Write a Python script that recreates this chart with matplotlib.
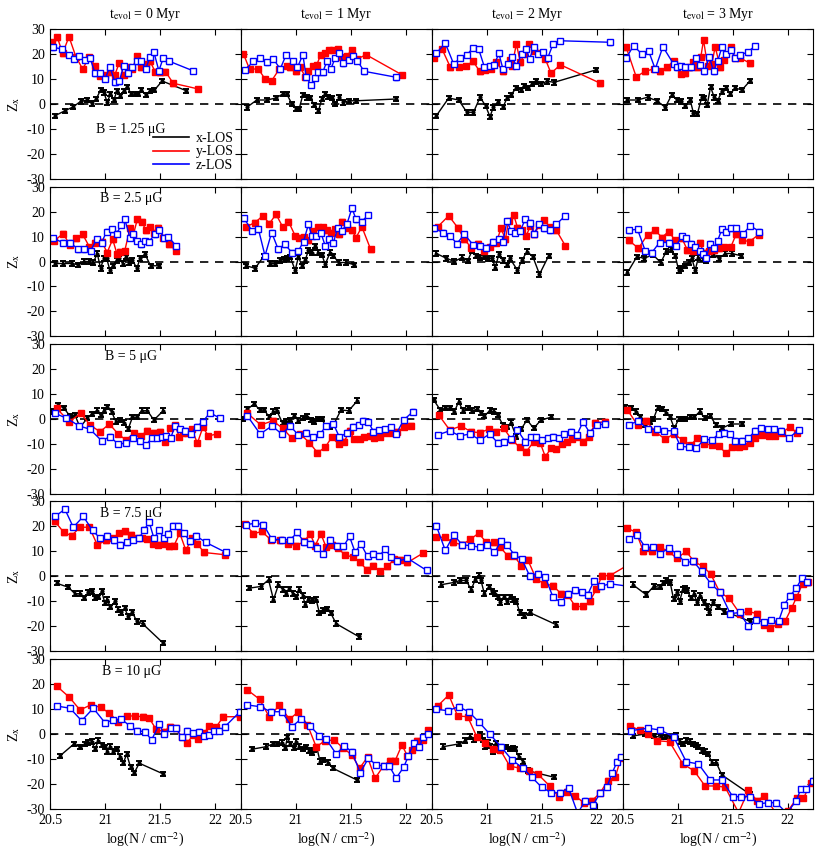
"""Z_x versus column density, 5 field strengths x 4 evolution times, three lines of sight."""

import matplotlib
matplotlib.use("Agg")
import matplotlib.pyplot as plt
from matplotlib.lines import Line2D

plt.rcParams["font.family"] = ["Liberation Serif", "DejaVu Serif"]
plt.rcParams["mathtext.fontset"] = "stix"
plt.rcParams["axes.unicode_minus"] = False

B_LABELS = ["B = 1.25 μG", "B = 2.5 μG", "B = 5 μG", "B = 7.5 μG", "B = 10 μG"]
T_LABELS = [r"t$_{\rm evol}$ = 0 Myr", r"t$_{\rm evol}$ = 1 Myr",
            r"t$_{\rm evol}$ = 2 Myr", r"t$_{\rm evol}$ = 3 Myr"]
LOS_LABELS = ["x-LOS", "y-LOS", "z-LOS"]
X_TICKS = [20.5, 21, 21.5, 22]
X_TICK_LABELS = ["20.5", "21", "21.5", "22"]
Y_TICKS = [-30, -20, -10, 0, 10, 20, 30]
ERR = 0.9

# ---- B = 1.25 uG ----
B125_T0_X = [(20.545,-4.7),(20.636,-2.7),(20.712,-1.1),(20.78,1.1),(20.84,1.6),(20.88,0.3),(20.92,2.0),(20.96,5.6),(20.99,4.7),(21.02,0.7),(21.05,4.0),(21.08,1.6),(21.11,5.3),(21.14,3.3),(21.17,5.3),(21.20,6.9),(21.24,4.0),(21.27,4.0),(21.30,4.0),(21.33,5.6),(21.37,3.7),(21.41,5.3),(21.45,5.6),(21.52,9.2),(21.74,5.3)]
B125_T0_Y = [(20.515,24.7),(20.567,26.7),(20.615,20.3),(20.673,26.9),(20.736,18.9),(20.797,14.0),(20.858,18.9),(20.909,15.3),(20.955,11.3),(21.0,11.7),(21.045,12.7),(21.09,11.7),(21.13,16.5),(21.17,11.7),(21.21,14.7),(21.25,14.0),(21.29,19.3),(21.33,14.7),(21.37,16.0),(21.41,17.1),(21.455,13.0),(21.50,12.7),(21.55,13.0),(21.62,8.3),(21.85,6.0)]
B125_T0_Z = [(20.53,22.7),(20.606,22.0),(20.673,19.7),(20.72,18.0),(20.767,19.3),(20.818,17.6),(20.864,18.4),(20.91,12.3),(20.955,12.3),(21.0,10.0),(21.045,14.9),(21.09,8.7),(21.13,9.1),(21.17,15.3),(21.21,12.3),(21.25,14.9),(21.29,17.1),(21.33,17.3),(21.37,14.0),(21.41,18.9),(21.445,20.7),(21.49,13.3),(21.53,18.4),(21.585,17.1),(21.80,13.3)]
B125_T1_X = [(20.555,-1.3),(20.645,1.6),(20.736,1.6),(20.82,2.4),(20.88,4.0),(20.918,4.0),(20.964,0.0),(21.003,-2.0),(21.03,-2.0),(21.064,3.7),(21.10,2.7),(21.13,2.4),(21.167,-0.3),(21.206,-2.7),(21.236,2.0),(21.267,4.0),(21.297,2.9),(21.327,2.4),(21.358,0.0),(21.397,2.7),(21.433,0.7),(21.479,1.3),(21.548,1.3),(21.912,2.0)]
B125_T1_Y = [(20.524,20.0),(20.579,14.0),(20.66,14.0),(20.72,10.0),(20.78,9.3),(20.85,14.0),(20.918,15.3),(20.948,14.7),(21.003,13.1),(21.04,14.7),(21.085,10.9),(21.115,13.1),(21.155,15.3),(21.19,15.7),(21.227,19.7),(21.267,20.3),(21.306,21.6),(21.342,21.6),(21.379,22.0),(21.418,18.9),(21.464,19.3),(21.509,21.6),(21.555,18.0),(21.64,19.7),(21.964,11.7)]
B125_T1_Z = [(20.54,13.6),(20.615,17.1),(20.676,18.4),(20.736,16.7),(20.797,18.0),(20.858,14.0),(20.912,19.7),(20.973,17.1),(21.015,14.7),(21.064,19.7),(21.094,10.9),(21.136,7.7),(21.176,10.4),(21.206,12.7),(21.245,12.7),(21.282,17.1),(21.318,14.0),(21.358,18.4),(21.397,20.3),(21.433,16.3),(21.479,17.6),(21.518,19.3),(21.56,17.3),(21.62,13.1),(21.912,10.7)]
B125_T2_X = [(20.542,-4.7),(20.655,2.4),(20.745,1.6),(20.82,-3.3),(20.88,-3.3),(20.94,2.7),(20.99,-0.7),(21.03,-5.1),(21.06,-1.3),(21.10,0.7),(21.15,-1.1),(21.185,2.4),(21.22,3.7),(21.27,6.4),(21.31,5.6),(21.34,7.3),(21.38,6.4),(21.41,8.0),(21.45,9.1),(21.49,8.0),(21.55,9.1),(21.615,8.7),(21.997,13.7)]
B125_T2_Y = [(20.524,18.4),(20.594,22.0),(20.67,14.7),(20.745,14.9),(20.815,15.3),(20.876,17.1),(20.936,13.1),(20.988,13.6),(21.04,14.0),(21.088,16.7),(21.148,13.1),(21.209,17.6),(21.23,15.3),(21.27,24.0),(21.306,16.7),(21.342,20.0),(21.382,24.0),(21.433,21.3),(21.488,20.3),(21.533,18.0),(21.585,12.3),(21.67,15.7),(22.033,8.3)]
B125_T2_Z = [(20.542,20.3),(20.624,24.3),(20.70,16.0),(20.76,18.4),(20.82,19.7),(20.876,22.4),(20.927,22.0),(20.98,14.7),(21.027,15.3),(21.07,15.7),(21.11,20.3),(21.148,14.0),(21.19,16.0),(21.23,18.9),(21.27,15.3),(21.32,20.0),(21.36,22.0),(21.39,18.0),(21.427,22.7),(21.464,20.0),(21.51,20.7),(21.555,18.4),(21.603,24.0),(21.67,25.3),(22.124,24.7)]
B125_T3_X = [(20.545,1.6),(20.636,1.6),(20.727,2.7),(20.812,1.3),(20.888,-1.3),(20.948,3.7),(20.994,1.6),(21.03,1.1),(21.07,-0.7),(21.115,1.6),(21.145,-3.7),(21.18,-4.0),(21.22,2.7),(21.24,2.4),(21.27,-0.3),(21.30,6.9),(21.333,2.7),(21.364,1.3),(21.403,5.1),(21.442,6.4),(21.479,4.0),(21.524,6.4),(21.585,5.6),(21.66,9.3)]
B125_T3_Y = [(20.533,22.7),(20.624,10.9),(20.706,13.1),(20.782,14.0),(20.842,13.1),(20.903,14.7),(20.964,17.1),(20.994,15.3),(21.03,12.0),(21.07,12.3),(21.10,14.7),(21.145,16.7),(21.18,14.7),(21.212,18.9),(21.236,25.6),(21.273,15.3),(21.312,16.0),(21.342,22.9),(21.388,14.7),(21.424,17.6),(21.485,22.7),(21.524,18.4),(21.57,18.4),(21.66,16.3)]
B125_T3_Z = [(20.533,18.4),(20.6,23.3),(20.676,20.0),(20.736,21.3),(20.797,14.0),(20.867,22.9),(20.964,16.0),(20.994,14.7),(21.03,15.3),(21.07,14.7),(21.12,14.7),(21.17,18.4),(21.206,15.7),(21.242,13.1),(21.29,18.7),(21.327,13.1),(21.364,17.1),(21.403,22.7),(21.442,20.0),(21.485,21.6),(21.524,18.4),(21.57,19.7),(21.636,20.7),(21.706,23.3)]

# ---- B = 2.5 uG ----
B25_T0_X = [(20.545,-0.8),(20.62,-0.8),(20.697,-0.8),(20.758,-1.3),(20.81,0.0),(20.857,0.0),(20.894,-0.4),(20.93,3.2),(20.96,-2.7),(20.99,1.3),(21.015,1.3),(21.045,-3.5),(21.07,-1.7),(21.106,0.5),(21.13,1.3),(21.16,-0.8),(21.19,1.9),(21.22,-0.4),(21.25,0.5),(21.29,-2.7),(21.32,1.3),(21.364,2.9),(21.415,-1.7),(21.494,-1.7)]
B25_T0_Y = [(20.54,8.3),(20.62,11.2),(20.68,6.7),(20.74,9.3),(20.797,10.9),(20.858,5.9),(20.909,7.6),(20.97,8.0),(21.02,3.6),(21.07,8.9),(21.11,2.9),(21.14,4.0),(21.18,4.3),(21.227,13.3),(21.258,10.7),(21.294,16.9),(21.333,16.0),(21.373,12.5),(21.41,13.9),(21.445,11.6),(21.485,13.6),(21.53,9.6),(21.585,6.9),(21.645,4.3)]
B25_T0_Z = [(20.53,9.3),(20.615,7.6),(20.68,7.6),(20.758,4.9),(20.81,4.9),(20.87,4.3),(20.924,8.9),(20.97,7.6),(21.015,12.0),(21.06,12.9),(21.106,11.2),(21.15,14.7),(21.18,16.9),(21.227,9.6),(21.258,11.2),(21.294,8.3),(21.327,6.9),(21.364,8.3),(21.4,8.0),(21.455,10.9),(21.494,12.5),(21.536,9.6),(21.576,9.9),(21.645,6.3)]
B25_T1_X = [(20.548,-1.7),(20.63,-2.7),(20.712,2.3),(20.767,-0.8),(20.812,-0.8),(20.858,0.5),(20.888,0.9),(20.918,1.3),(20.948,1.9),(20.994,-3.5),(21.024,1.9),(21.055,-1.7),(21.085,0.5),(21.115,4.5),(21.145,3.6),(21.176,6.3),(21.206,3.6),(21.236,2.7),(21.267,-1.1),(21.312,3.6),(21.342,2.3),(21.388,-0.4),(21.458,-0.4),(21.53,-1.3)]
B25_T1_Y = [(20.548,13.9),(20.63,15.6),(20.70,18.3),(20.76,15.2),(20.82,18.9),(20.88,13.9),(20.933,16.0),(20.994,10.3),(21.033,9.6),(21.07,9.9),(21.115,8.5),(21.16,12.3),(21.206,13.9),(21.245,13.9),(21.28,12.5),(21.318,11.6),(21.358,12.9),(21.388,10.9),(21.418,16.0),(21.464,13.6),(21.51,12.5),(21.548,9.6),(21.6,13.9),(21.68,4.9)]
B25_T1_Z = [(20.53,17.3),(20.6,12.3),(20.66,12.9),(20.72,2.3),(20.78,11.6),(20.84,4.9),(20.9,6.9),(20.964,3.6),(21.024,4.3),(21.07,8.0),(21.115,14.9),(21.145,10.3),(21.185,10.3),(21.227,11.6),(21.267,6.3),(21.306,8.9),(21.342,7.6),(21.379,13.3),(21.418,12.3),(21.464,14.9),(21.51,21.3),(21.548,16.9),(21.6,16.0),(21.66,18.7)]
B25_T2_X = [(20.542,3.2),(20.633,1.3),(20.706,0.0),(20.776,1.6),(20.827,0.3),(20.867,4.3),(20.906,2.3),(20.942,1.6),(20.979,1.9),(21.009,1.3),(21.048,1.3),(21.079,-2.4),(21.11,2.9),(21.148,0.5),(21.185,-1.3),(21.21,1.3),(21.28,-3.5),(21.32,0.5),(21.367,4.0),(21.42,1.9),(21.48,-5.1),(21.564,2.3)]
B25_T2_Y = [(20.555,13.9),(20.655,18.3),(20.736,13.6),(20.797,8.9),(20.858,5.6),(20.918,7.2),(20.973,4.3),(21.033,5.9),(21.088,7.6),(21.13,13.3),(21.17,8.9),(21.2,16.3),(21.245,18.7),(21.28,13.6),(21.32,12.5),(21.36,10.3),(21.397,14.3),(21.433,10.9),(21.48,14.7),(21.524,16.5),(21.573,13.9),(21.633,12.5),(21.715,6.3)]
B25_T2_Z = [(20.524,13.3),(20.603,11.6),(20.664,10.3),(20.73,7.2),(20.797,10.9),(20.876,6.7),(20.936,6.3),(20.997,5.6),(21.058,8.0),(21.11,8.9),(21.148,8.0),(21.185,16.3),(21.22,12.3),(21.26,11.6),(21.306,12.3),(21.35,16.9),(21.39,15.6),(21.433,11.2),(21.473,14.9),(21.518,13.3),(21.573,12.5),(21.633,14.9),(21.715,18.3)]
B25_T3_X = [(20.545,-4.4),(20.63,1.9),(20.697,1.3),(20.776,2.7),(20.848,-0.4),(20.897,4.0),(20.94,4.9),(20.979,2.3),(21.01,-3.5),(21.03,-2.7),(21.07,-1.7),(21.1,-0.4),(21.13,1.3),(21.16,-3.5),(21.19,1.6),(21.23,1.3),(21.26,0.3),(21.32,2.7),(21.38,1.3),(21.433,3.2),(21.494,3.2),(21.576,2.3)]
B25_T3_Y = [(20.555,8.5),(20.645,5.3),(20.727,10.7),(20.797,12.5),(20.858,9.6),(20.918,12.0),(20.979,8.5),(21.04,9.3),(21.09,4.5),(21.14,4.3),(21.2,7.6),(21.24,3.6),(21.29,4.3),(21.333,4.5),(21.373,5.3),(21.418,5.9),(21.485,5.9),(21.533,10.9),(21.585,8.5),(21.655,8.0),(21.736,10.7)]
B25_T3_Z = [(20.555,12.5),(20.636,12.9),(20.706,4.3),(20.767,3.6),(20.836,7.6),(20.918,7.6),(20.988,6.3),(21.04,10.3),(21.08,9.3),(21.12,7.2),(21.16,5.9),(21.2,4.3),(21.23,3.2),(21.26,1.3),(21.297,7.2),(21.333,5.6),(21.364,8.3),(21.403,12.9),(21.442,12.0),(21.485,13.3),(21.533,13.3),(21.594,10.9),(21.66,14.3),(21.745,12.0)]

# ---- B = 5 uG ----
B5_T0_X = [(20.515,2.9),(20.576,5.6),(20.627,4.3),(20.682,1.2),(20.727,1.6),(20.773,-3.3),(20.84,0.3),(20.879,2.0),(20.924,3.3),(20.96,1.6),(20.99,3.3),(21.02,4.7),(21.06,2.9),(21.1,-1.1),(21.136,-0.4),(21.17,-1.5),(21.21,-4.1),(21.25,0.7),(21.288,0.7),(21.333,3.3),(21.385,3.3),(21.445,-0.4),(21.53,3.3)]
B5_T0_Y = [(20.56,4.3),(20.676,-1.1),(20.78,2.3),(20.864,-2.4),(20.955,-5.1),(21.04,-2.0),(21.12,-6.0),(21.19,-8.4),(21.264,-5.7),(21.324,-6.8),(21.385,-4.7),(21.445,-5.5),(21.5,-5.1),(21.545,-9.1),(21.59,-3.7),(21.636,-2.5),(21.676,-7.1),(21.712,-5.7),(21.75,-5.5),(21.79,-4.1),(21.84,-9.7),(21.89,-3.3),(21.94,-6.8),(22.015,-6.0)]
B5_T0_Z = [(20.545,2.3),(20.65,0.3),(20.767,-2.8),(20.864,-4.1),(20.97,-8.7),(21.045,-7.1),(21.12,-10.0),(21.19,-9.7),(21.258,-7.7),(21.318,-8.7),(21.373,-10.4),(21.424,-7.7),(21.47,-7.7),(21.515,-7.1),(21.555,-6.8),(21.597,-7.7),(21.636,-2.8),(21.68,-4.1),(21.727,-4.7),(21.78,-6.0),(21.833,-3.1),(21.888,-1.1),(21.955,2.5),(22.045,0.3)]
B5_T1_X = [(20.518,-0.1),(20.56,3.9),(20.62,6.0),(20.676,3.6),(20.712,3.6),(20.76,0.7),(20.797,2.9),(20.827,3.3),(20.88,-1.7),(20.912,-1.1),(20.948,-0.4),(20.985,1.2),(21.024,-0.7),(21.064,0.3),(21.1,0.9),(21.136,-0.4),(21.167,-1.1),(21.206,-0.1),(21.236,-0.1),(21.276,-3.1),(21.312,-3.1),(21.342,-2.4),(21.41,3.6),(21.48,3.3),(21.56,7.3)]
B5_T1_Y = [(20.56,2.3),(20.682,-2.4),(20.79,-0.7),(20.88,-3.7),(20.964,-7.7),(21.04,-6.0),(21.124,-9.5),(21.197,-13.5),(21.267,-11.3),(21.327,-7.3),(21.388,-10.0),(21.44,-9.1),(21.488,-4.7),(21.53,-8.1),(21.58,-8.1),(21.62,-7.3),(21.67,-6.8),(21.712,-7.7),(21.767,-7.3),(21.82,-5.7),(21.873,-5.7),(21.924,-5.1),(21.98,-3.3),(22.045,-2.7)]
B5_T1_Z = [(20.56,1.2),(20.676,-6.0),(20.782,-2.8),(20.873,-6.0),(20.948,-2.8),(21.024,-6.4),(21.094,-5.5),(21.16,-7.3),(21.22,-6.0),(21.276,-2.8),(21.342,-2.0),(21.397,-7.3),(21.464,-5.5),(21.518,-3.1),(21.57,-2.4),(21.61,-0.7),(21.66,-1.1),(21.706,-5.1),(21.76,-4.4),(21.812,-4.1),(21.864,-3.3),(21.912,-6.0),(21.98,-0.4),(22.064,2.9)]
B5_T2_X = [(20.518,7.6),(20.579,3.6),(20.624,4.3),(20.664,4.3),(20.706,2.9),(20.745,6.9),(20.785,3.3),(20.827,4.3),(20.867,3.3),(20.912,3.9),(20.948,2.3),(20.979,1.2),(21.027,3.3),(21.064,2.9),(21.1,1.6),(21.148,-2.4),(21.185,-3.3),(21.22,-1.5),(21.27,-7.1),(21.312,-4.1),(21.367,-0.4),(21.427,-3.7),(21.494,-0.4),(21.585,0.7)]
B5_T2_Y = [(20.564,1.6),(20.664,-4.4),(20.767,-2.8),(20.858,-5.1),(20.936,-5.5),(21.018,-4.1),(21.088,-5.1),(21.155,-3.7),(21.23,-8.4),(21.3,-11.3),(21.36,-13.1),(21.427,-9.1),(21.488,-9.7),(21.533,-15.1),(21.585,-11.7),(21.633,-12.1),(21.685,-10.0),(21.73,-9.1),(21.776,-8.1),(21.82,-7.3),(21.876,-9.1),(21.927,-7.1),(21.988,-1.5),(22.079,-1.1)]
B5_T2_Z = [(20.555,-6.4),(20.664,-4.7),(20.755,-6.8),(20.845,-6.0),(20.942,-8.4),(21.027,-6.0),(21.1,-9.5),(21.16,-9.1),(21.22,-8.1),(21.28,-4.4),(21.35,-9.1),(21.403,-7.3),(21.45,-7.3),(21.5,-8.4),(21.555,-7.7),(21.603,-7.1),(21.655,-7.7),(21.706,-6.0),(21.767,-5.1),(21.82,-6.4),(21.876,-1.1),(21.936,-5.5),(22.003,-2.4),(22.079,-2.0)]
B5_T3_X = [(20.524,4.7),(20.576,4.3),(20.624,2.9),(20.66,0.7),(20.706,-2.4),(20.75,-1.1),(20.78,-0.1),(20.818,4.3),(20.858,3.9),(20.897,2.5),(20.933,0.7),(20.97,-3.7),(21.01,-0.1),(21.04,-0.1),(21.07,-0.1),(21.115,0.7),(21.15,0.7),(21.2,2.9),(21.25,0.3),(21.297,1.2),(21.35,-2.4),(21.403,-3.7),(21.485,-2.0),(21.585,-2.0)]
B5_T3_Y = [(20.545,3.6),(20.636,-2.4),(20.715,-0.7),(20.797,-5.1),(20.888,-8.1),(20.964,-6.0),(21.048,-8.4),(21.12,-10.4),(21.18,-7.7),(21.242,-10.0),(21.312,-10.4),(21.373,-10.8),(21.442,-13.7),(21.494,-11.3),(21.555,-11.3),(21.6,-10.8),(21.655,-9.7),(21.706,-7.7),(21.767,-6.4),(21.827,-6.8),(21.888,-6.8),(21.948,-5.5),(22.018,-3.3),(22.09,-5.5)]
B5_T3_Z = [(20.555,-2.4),(20.645,-0.7),(20.727,-4.1),(20.812,-4.1),(20.88,-4.7),(20.964,-4.7),(21.024,-10.8),(21.1,-11.3),(21.17,-11.7),(21.242,-8.1),(21.312,-8.4),(21.373,-6.0),(21.424,-5.5),(21.473,-6.0),(21.524,-8.7),(21.585,-8.7),(21.645,-7.7),(21.706,-4.7),(21.758,-3.7),(21.818,-4.1),(21.88,-4.1),(21.94,-4.7),(22.01,-7.7),(22.1,-4.4)]

# ---- B = 7.5 uG ----
B75_T0_X = [(20.56,-2.7),(20.667,-4.3),(20.727,-6.9),(20.773,-6.9),(20.809,-8.7),(20.848,-6.4),(20.879,-6.0),(20.909,-8.7),(20.94,-8.3),(20.97,-6.0),(21.0,-10.7),(21.02,-9.3),(21.05,-12.3),(21.09,-10.0),(21.12,-13.3),(21.15,-14.4),(21.18,-12.7),(21.21,-16.0),(21.25,-14.4),(21.29,-18.0),(21.342,-18.9),(21.53,-26.7)]
B75_T0_Y = [(20.545,22.0),(20.627,17.6),(20.697,16.3),(20.773,19.7),(20.858,19.7),(20.93,12.7),(21.01,14.4),(21.076,15.3),(21.13,17.3),(21.18,18.0),(21.233,16.7),(21.288,15.3),(21.333,15.3),(21.38,14.9),(21.433,13.1),(21.485,12.7),(21.536,13.1),(21.585,12.0),(21.627,12.3),(21.68,17.3),(21.736,10.4),(21.788,15.3),(21.84,13.1),(21.9,9.6),(22.09,8.7)]
B75_T0_Z = [(20.545,24.0),(20.636,26.9),(20.712,19.7),(20.803,24.0),(20.888,18.4),(20.955,15.3),(21.02,16.3),(21.08,14.4),(21.14,12.7),(21.197,13.6),(21.258,14.7),(21.312,15.3),(21.355,18.7),(21.403,21.6),(21.445,15.3),(21.494,18.4),(21.536,15.3),(21.576,17.1),(21.62,20.3),(21.667,20.3),(21.718,17.3),(21.773,14.0),(21.827,16.3),(21.918,13.6),(22.1,9.6)]
B75_T1_X = [(20.57,-4.7),(20.682,-4.0),(20.752,-1.3),(20.797,-9.3),(20.842,-3.3),(20.882,-5.3),(20.912,-6.9),(20.942,-5.1),(20.973,-6.9),(21.003,-8.3),(21.033,-5.3),(21.064,-7.7),(21.085,-11.3),(21.115,-9.3),(21.145,-9.6),(21.185,-9.3),(21.215,-14.7),(21.245,-13.6),(21.282,-13.1),(21.318,-14.7),(21.367,-18.9),(21.57,-24.0)]
B75_T1_Y = [(20.54,21.0),(20.615,17.1),(20.69,18.0),(20.773,14.7),(20.852,14.4),(20.933,13.1),(21.003,12.3),(21.076,14.0),(21.13,17.1),(21.176,12.3),(21.227,17.1),(21.276,11.7),(21.327,12.7),(21.379,11.3),(21.448,8.7),(21.518,7.7),(21.585,5.6),(21.645,2.7),(21.706,4.3),(21.767,2.0),(21.833,4.0),(21.894,6.9),(21.948,6.7),(22.015,5.6),(22.155,9.3)]
B75_T1_Z = [(20.548,20.7),(20.63,21.3),(20.706,20.7),(20.782,14.9),(20.873,14.7),(20.948,14.7),(21.015,17.6),(21.076,13.6),(21.13,13.1),(21.19,11.3),(21.25,9.1),(21.312,14.7),(21.373,12.3),(21.433,12.0),(21.488,16.0),(21.54,9.6),(21.59,13.1),(21.652,8.0),(21.706,9.1),(21.76,8.3),(21.812,10.9),(21.864,7.7),(21.924,6.0),(22.015,7.3),(22.19,2.4)]
B75_T2_X = [(20.585,-3.3),(20.7,-2.4),(20.76,-1.6),(20.815,-1.6),(20.858,-5.3),(20.897,-1.3),(20.927,0.3),(20.948,-1.6),(20.979,-6.9),(21.018,-4.3),(21.048,-6.0),(21.079,-6.9),(21.1,-8.3),(21.124,-10.4),(21.155,-8.3),(21.185,-10.0),(21.209,-8.3),(21.24,-9.3),(21.27,-10.0),(21.3,-14.4),(21.342,-15.7),(21.39,-14.4),(21.633,-19.3)]
B75_T2_Y = [(20.542,15.7),(20.624,15.7),(20.694,13.6),(20.776,12.7),(20.852,14.9),(20.927,17.3),(20.997,13.6),(21.064,13.6),(21.124,11.7),(21.19,8.3),(21.25,8.3),(21.312,4.3),(21.373,6.7),(21.452,-1.1),(21.524,-2.9),(21.603,-3.7),(21.676,-6.9),(21.736,-7.3),(21.806,-12.0),(21.876,-12.0),(21.936,-10.0),(21.997,-5.1),(22.048,0.3),(22.118,0.3),(22.30,5.0)]
B75_T2_Z = [(20.542,20.3),(20.624,10.4),(20.7,16.7),(20.776,12.7),(20.858,12.3),(20.936,11.7),(21.003,12.7),(21.07,9.6),(21.13,14.0),(21.185,12.7),(21.25,8.7),(21.32,6.9),(21.39,0.3),(21.464,1.1),(21.533,-0.3),(21.603,-8.3),(21.676,-10.4),(21.736,-6.9),(21.806,-5.6),(21.867,-6.4),(21.918,-7.3),(21.973,-2.0),(22.039,-4.0),(22.118,-2.9),(22.30,-4.0)]
B75_T3_X = [(20.594,-3.3),(20.715,-7.3),(20.782,-4.0),(20.836,-4.3),(20.867,-2.7),(20.897,-1.6),(20.933,-2.4),(20.964,-9.1),(20.994,-6.4),(21.018,-10.0),(21.048,-5.3),(21.07,-4.7),(21.09,-5.6),(21.12,-8.7),(21.15,-6.9),(21.176,-10.4),(21.2,-7.7),(21.236,-10.4),(21.267,-12.0),(21.29,-14.4),(21.32,-10.4),(21.364,-12.3),(21.424,-14.0),(21.485,-14.9),(21.66,-18.0)]
B75_T3_Y = [(20.545,19.3),(20.624,17.6),(20.69,10.0),(20.767,10.0),(20.842,11.7),(20.918,10.0),(20.994,7.3),(21.079,10.0),(21.15,6.0),(21.23,4.0),(21.3,1.1),(21.385,-6.4),(21.47,-8.7),(21.567,-14.9),(21.642,-14.0),(21.724,-14.9),(21.785,-19.3),(21.845,-20.7),(21.915,-18.9),(21.976,-18.0),(22.036,-12.7),(22.082,-8.3),(22.136,-2.9),(22.188,-2.4)]
B75_T3_Z = [(20.555,14.9),(20.63,16.7),(20.706,11.7),(20.776,11.7),(20.842,9.1),(20.918,11.3),(20.994,9.1),(21.07,5.6),(21.145,6.0),(21.22,2.0),(21.303,-2.9),(21.388,-6.4),(21.48,-14.9),(21.564,-14.4),(21.645,-20.0),(21.715,-17.3),(21.782,-18.4),(21.848,-17.6),(21.918,-18.0),(21.97,-11.3),(22.024,-7.7),(22.079,-4.7),(22.13,-0.7),(22.18,-2.4)]

# ---- B = 10 uG ----
B10_T0_X = [(20.59,-8.8),(20.718,-4.0),(20.773,-5.3),(20.818,-4.0),(20.848,-3.5),(20.879,-3.1),(20.909,-6.1),(20.94,-2.7),(20.97,-4.4),(21.0,-5.3),(21.02,-7.1),(21.045,-5.1),(21.076,-7.1),(21.106,-6.1),(21.136,-9.1),(21.167,-11.7),(21.197,-8.0),(21.233,-13.3),(21.264,-15.7),(21.312,-11.7),(21.53,-16.0)]
B10_T0_Y = [(20.56,19.2),(20.676,14.7),(20.773,9.6),(20.87,11.6),(20.96,10.7),(21.04,8.3),(21.12,4.9),(21.2,7.2),(21.27,7.2),(21.342,6.9),(21.403,6.3),(21.464,1.9),(21.536,0.9),(21.59,2.9),(21.645,2.3),(21.697,-1.3),(21.748,-3.5),(21.803,-0.4),(21.848,-2.1),(21.9,0.3),(21.948,3.2),(22.009,2.7),(22.076,6.9),(22.227,6.9)]
B10_T0_Z = [(20.56,11.2),(20.682,10.3),(20.788,5.3),(20.894,10.3),(21.0,4.5),(21.076,5.6),(21.15,5.9),(21.227,3.2),(21.294,1.3),(21.364,0.9),(21.424,-2.4),(21.494,4.0),(21.536,0.0),(21.597,2.3),(21.645,2.3),(21.697,-1.3),(21.748,1.3),(21.803,0.3),(21.858,0.9),(21.9,-0.8),(21.948,-0.4),(21.99,1.3),(22.04,1.3),(22.09,2.9),(22.227,8.9)]
B10_T1_X = [(20.6,-6.1),(20.73,-5.1),(20.79,-4.0),(20.833,-4.0),(20.873,-3.5),(20.903,-5.7),(20.924,-1.3),(20.948,-4.0),(20.979,-5.7),(21.003,-3.1),(21.033,-5.1),(21.064,-6.1),(21.094,-5.3),(21.124,-6.7),(21.145,-7.5),(21.167,-6.4),(21.19,-5.3),(21.221,-11.1),(21.25,-10.4),(21.297,-11.5),(21.336,-13.7),(21.555,-18.4)]
B10_T1_Y = [(20.56,17.6),(20.67,13.9),(20.76,6.7),(20.85,11.6),(20.942,5.9),(21.024,8.9),(21.106,3.6),(21.185,-5.1),(21.267,-2.7),(21.348,-2.4),(21.433,-5.7),(21.509,-8.4),(21.579,-13.7),(21.652,-9.3),(21.721,-17.7),(21.797,-12.8),(21.852,-10.7),(21.903,-10.7),(21.964,-4.4),(22.015,-8.8),(22.055,-6.4),(22.1,-2.7),(22.155,-2.4),(22.2,1.6)]
B10_T1_Z = [(20.56,11.6),(20.676,10.9),(20.773,8.9),(20.873,8.9),(20.964,2.9),(21.045,5.9),(21.13,3.2),(21.215,-0.8),(21.276,-2.1),(21.367,-8.0),(21.44,-4.8),(21.51,-7.1),(21.585,-15.5),(21.66,-9.7),(21.73,-12.4),(21.797,-12.8),(21.85,-12.8),(21.912,-17.7),(21.98,-13.3),(22.024,-8.8),(22.07,-3.7),(22.124,-5.1),(22.155,-1.3),(22.197,0.0)]
B10_T2_X = [(20.603,-5.1),(20.745,-4.0),(20.806,-2.7),(20.845,-1.1),(20.882,-2.4),(20.912,-1.3),(20.942,0.0),(20.967,-2.4),(20.988,-5.3),(21.009,-3.5),(21.033,-4.8),(21.058,-7.1),(21.088,-3.7),(21.118,-6.7),(21.148,-5.3),(21.179,-5.3),(21.209,-6.1),(21.24,-5.7),(21.26,-6.1),(21.29,-9.1),(21.33,-11.1),(21.373,-14.7),(21.61,-17.3)]
B10_T2_Y = [(20.555,11.2),(20.655,15.6),(20.736,7.2),(20.827,6.9),(20.912,-1.3),(20.988,-3.7),(21.058,-6.1),(21.124,-6.4),(21.209,-12.8),(21.3,-13.7),(21.382,-14.7),(21.464,-16.0),(21.573,-20.8),(21.655,-25.1),(21.73,-23.1),(21.806,-24.8),(21.882,-27.5),(21.958,-26.7),(22.033,-23.5),(22.1,-18.7),(22.17,-17.1),(22.22,-9.7)]
B10_T2_Z = [(20.542,9.9),(20.645,9.3),(20.745,10.9),(20.836,8.9),(20.927,4.9),(21.027,0.0),(21.13,-5.1),(21.23,-10.4),(21.33,-13.7),(21.41,-17.3),(21.5,-21.3),(21.585,-23.5),(21.664,-23.5),(21.745,-21.7),(21.827,-31.7),(21.897,-26.7),(21.967,-28.4),(22.033,-23.5),(22.094,-21.1),(22.14,-15.7),(22.185,-11.1),(22.22,-9.3)]
B10_T3_X = [(20.594,-0.8),(20.706,0.0),(20.782,-0.8),(20.848,-1.3),(20.888,-1.3),(20.927,-1.7),(20.964,-1.3),(20.988,-0.4),(21.018,-3.1),(21.048,-4.0),(21.079,-2.7),(21.11,-3.1),(21.14,-4.0),(21.17,-4.4),(21.19,-5.3),(21.22,-6.7),(21.25,-7.1),(21.28,-8.0),(21.312,-11.5),(21.352,-11.5),(21.403,-16.4),(21.655,-24.0)]
B10_T3_Y = [(20.564,3.2),(20.655,1.6),(20.727,0.0),(20.812,-2.7),(20.927,-3.1),(21.048,-12.0),(21.15,-14.7),(21.25,-20.8),(21.352,-20.8),(21.433,-21.3),(21.555,-31.5),(21.645,-22.4),(21.721,-26.7),(21.788,-24.8),(21.9,-32.0),(22.0,-31.0),(22.085,-25.7),(22.145,-25.7),(22.21,-19.7)]
B10_T3_Z = [(20.576,1.3),(20.727,2.3),(20.842,1.6),(20.964,-1.1),(21.079,-11.1),(21.19,-12.0),(21.297,-18.4),(21.403,-18.4),(21.503,-25.1),(21.576,-25.1),(21.66,-25.1),(21.736,-28.0),(21.818,-27.5),(21.897,-27.5),(21.994,-31.7),(22.079,-26.7),(22.12,-22.1),(22.17,-22.1),(22.23,-18.7)]

GRID = [
    [(B125_T0_X, B125_T0_Y, B125_T0_Z), (B125_T1_X, B125_T1_Y, B125_T1_Z),
     (B125_T2_X, B125_T2_Y, B125_T2_Z), (B125_T3_X, B125_T3_Y, B125_T3_Z)],
    [(B25_T0_X, B25_T0_Y, B25_T0_Z), (B25_T1_X, B25_T1_Y, B25_T1_Z),
     (B25_T2_X, B25_T2_Y, B25_T2_Z), (B25_T3_X, B25_T3_Y, B25_T3_Z)],
    [(B5_T0_X, B5_T0_Y, B5_T0_Z), (B5_T1_X, B5_T1_Y, B5_T1_Z),
     (B5_T2_X, B5_T2_Y, B5_T2_Z), (B5_T3_X, B5_T3_Y, B5_T3_Z)],
    [(B75_T0_X, B75_T0_Y, B75_T0_Z), (B75_T1_X, B75_T1_Y, B75_T1_Z),
     (B75_T2_X, B75_T2_Y, B75_T2_Z), (B75_T3_X, B75_T3_Y, B75_T3_Z)],
    [(B10_T0_X, B10_T0_Y, B10_T0_Z), (B10_T1_X, B10_T1_Y, B10_T1_Z),
     (B10_T2_X, B10_T2_Y, B10_T2_Z), (B10_T3_X, B10_T3_Y, B10_T3_Z)],
]

RED = "#ff0000"
BLUE = "#0000ff"


def draw(ax, pts, kind):
    xs = [p[0] for p in pts]
    ys = [p[1] for p in pts]
    if kind == 0:
        ax.errorbar(xs, ys, yerr=ERR, color="k", lw=1.0, marker="o", ms=2.0,
                    capsize=2.4, capthick=1.4, elinewidth=1.4)
    elif kind == 1:
        ax.errorbar(xs, ys, yerr=ERR, color=RED, lw=1.0, marker="s", ms=4.0,
                    mfc=RED, mec=RED, capsize=2.0, capthick=1.0, elinewidth=1.0)
    else:
        ax.errorbar(xs, ys, yerr=ERR, color=BLUE, lw=1.0, marker="s", ms=5.0,
                    mfc="white", mec=BLUE, mew=1.0, capsize=1.5, capthick=1.0,
                    elinewidth=1.0)


def main():
    fig = plt.figure(figsize=(8.3, 8.51), dpi=100)
    gs = fig.add_gridspec(5, 4, left=0.0602, right=0.98, top=0.9659,
                          bottom=0.0494, hspace=0.05, wspace=0.0)
    for r in range(5):
        for c in range(4):
            ax = fig.add_subplot(gs[r, c])
            ax.axhline(0, color="k", lw=1.2, ls=(0, (5, 4)), zorder=1)
            for k, pts in enumerate(GRID[r][c]):
                draw(ax, pts, k)
            ax.set_xlim(20.5, 22.235)
            ax.set_ylim(-30, 30)
            ax.set_xticks(X_TICKS)
            ax.set_yticks(Y_TICKS)
            ax.tick_params(direction="in", top=True, right=True, length=4,
                           width=0.8, labelsize=10)
            if r == 4:
                ax.set_xticklabels(X_TICK_LABELS)
                ax.set_xlabel(r"log(N / cm$^{-2}$)", fontsize=10, labelpad=3)
            else:
                ax.set_xticklabels([])
            if c == 0:
                ax.set_ylabel(r"Z$_{\rm x}$", fontsize=10, labelpad=3)
                yfrac = 0.333 if r == 0 else 0.917
                ax.text(0.425, yfrac, B_LABELS[r], transform=ax.transAxes,
                        ha="center", va="center", fontsize=10)
            else:
                ax.set_yticklabels([])
            if r == 0:
                ax.set_title(T_LABELS[c], fontsize=10, pad=8)
            if r == 0 and c == 0:
                handles = [Line2D([], [], color=col, lw=1.2)
                           for col in ("k", RED, BLUE)]
                ax.legend(handles, LOS_LABELS, loc="lower right", frameon=False,
                          fontsize=10, handlelength=2.6, labelspacing=0.05,
                          borderaxespad=0.1, handletextpad=0.5)
    fig.savefig("out.png", dpi=100)
    plt.close(fig)


if __name__ == "__main__":
    main()
